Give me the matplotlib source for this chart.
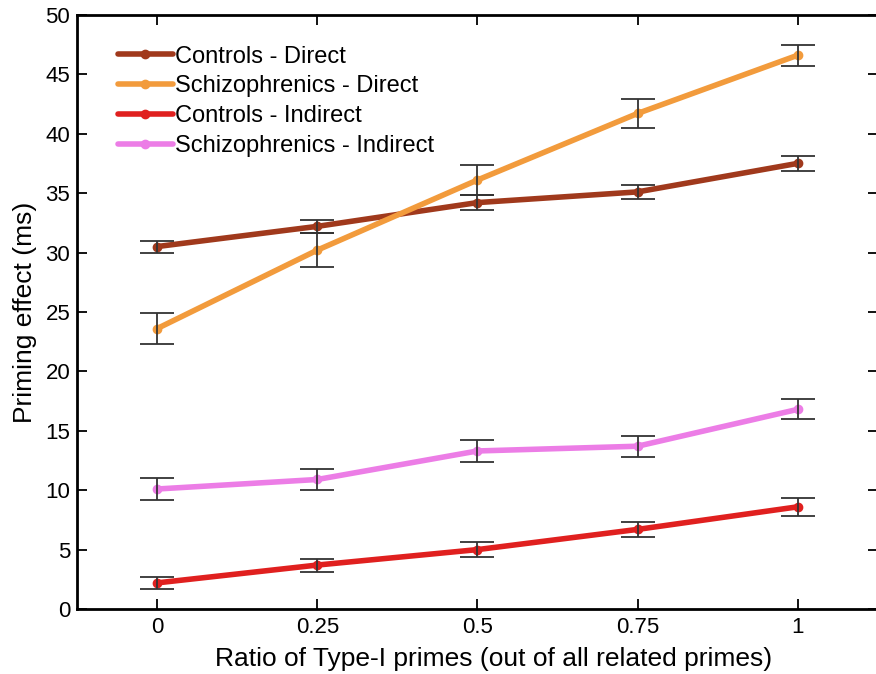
import matplotlib
matplotlib.use("Agg")
import matplotlib.pyplot as plt

plt.rcParams['font.family'] = ['Liberation Sans', 'DejaVu Sans']

ratios = [0, 0.25, 0.5, 0.75, 1]
labels = ["Controls - Direct", "Schizophrenics - Direct",
          "Controls - Indirect", "Schizophrenics - Indirect"]

controls_direct = [30.5, 32.2, 34.2, 35.1, 37.5]
controls_direct_err = [0.5, 0.55, 0.6, 0.6, 0.65]
schizo_direct = [23.6, 30.2, 36.1, 41.7, 46.6]
schizo_direct_err = [1.3, 1.4, 1.3, 1.2, 0.9]
controls_indirect = [2.2, 3.7, 5.0, 6.7, 8.6]
controls_indirect_err = [0.5, 0.55, 0.65, 0.65, 0.75]
schizo_indirect = [10.1, 10.9, 13.3, 13.7, 16.8]
schizo_indirect_err = [0.9, 0.85, 0.9, 0.9, 0.85]

series = [controls_direct, schizo_direct, controls_indirect, schizo_indirect]
errors = [controls_direct_err, schizo_direct_err, controls_indirect_err, schizo_indirect_err]
colors = ["#a0391c", "#f29b3c", "#e0201f", "#ec7de6"]

fig = plt.figure(figsize=(8.76, 6.74), dpi=100)
ax = fig.add_axes([0.088, 0.0964, 0.914, 0.8816])

for vals, err, c, lab in zip(series, errors, colors, labels):
    ax.plot(ratios, vals, color=c, lw=4, marker='o', ms=6, label=lab,
            solid_capstyle='round')
    ax.errorbar(ratios, vals, yerr=err, fmt='none', ecolor='#333333',
                elinewidth=1.3, capsize=12, capthick=1.3)

ax.set_xlim(-0.125, 1.125)
ax.set_ylim(0, 50)
ax.set_xticks(ratios)
ax.set_xticklabels(["0", "0.25", "0.5", "0.75", "1"])
ax.set_yticks(range(0, 51, 5))
ax.tick_params(direction='in', top=True, right=True, length=7, width=1.3,
               labelsize=16)
ax.tick_params(axis='x', pad=6)
ax.tick_params(axis='y', pad=5)
for s in ax.spines.values():
    s.set_linewidth(2)

ax.set_xlabel("Ratio of Type-I primes (out of all related primes)", fontsize=19)
ax.xaxis.set_label_coords(0.52, -0.064)
ax.set_ylabel("Priming effect (ms)", fontsize=19, labelpad=6)

ax.legend(loc='upper left', frameon=False, fontsize=17, handlelength=2.3,
          handletextpad=0.1, labelspacing=0.33, borderaxespad=0.6,
          bbox_to_anchor=(0.022, 0.988))

fig.savefig("out.png", dpi=100)
